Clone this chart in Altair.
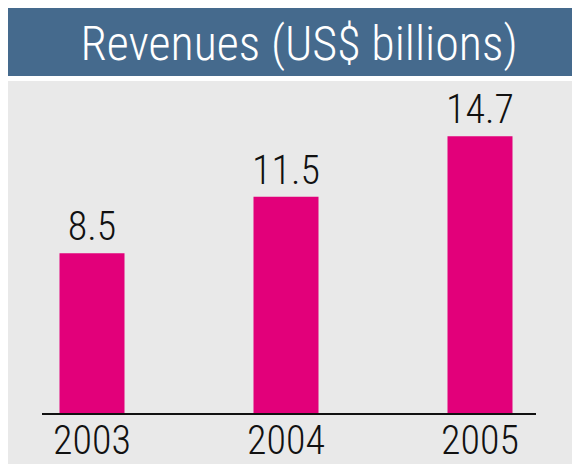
import altair as alt
import pandas as pd

years = ["2003", "2004", "2005"]
revenues = [8.5, 11.5, 14.7]
value_labels = ["8.5", "11.5", "14.7"]
title_text = "Revenues (US$ billions)"

FONT = "Roboto Condensed, Liberation Sans Narrow, Arial Narrow, sans-serif"
BLUE = "#456a8d"
GRAY = "#e9e9e9"
MAGENTA = "#e2007a"

df = pd.DataFrame({"year": years, "revenue": revenues, "label": value_labels})
one = pd.DataFrame({"a": [0]})

W, H = 564, 456

xs = alt.X("year:N", axis=None,
           scale=alt.Scale(domain=years, range=[-13, 569], paddingInner=0, paddingOuter=0))
ys = alt.Y("revenue:Q", axis=None, scale=alt.Scale(domain=[0, 20], range=[406, 28]))

title_bar = alt.Chart(one).mark_rect(color=BLUE).encode(
    x=alt.value(0), x2=alt.value(W), y=alt.value(0), y2=alt.value(68))
panel = alt.Chart(one).mark_rect(color=GRAY).encode(
    x=alt.value(0), x2=alt.value(W), y=alt.value(73), y2=alt.value(H))
title = alt.Chart(one).mark_text(
    font=FONT, fontSize=48, fontWeight=300, color="white", align="center", baseline="alphabetic"
).encode(x=alt.value(291), y=alt.value(52), text=alt.value(title_text))

bars = alt.Chart(df).mark_bar(color=MAGENTA, size=65).encode(
    x=xs, y=ys, y2=alt.datum(0))

labels = alt.Chart(df).mark_text(
    font=FONT, fontSize=40, fontWeight=300, color="#111111", align="center",
    baseline="alphabetic", dy=-13
).encode(x=xs, y=ys, text="label:N")

baseline = alt.Chart(one).mark_rule(color="#111111", strokeWidth=2).encode(
    x=alt.value(34), x2=alt.value(528), y=alt.value(406))

year_labels = alt.Chart(df).mark_text(
    font=FONT, fontSize=40, fontWeight=300, color="#111111", align="center",
    baseline="alphabetic"
).encode(x=xs, y=alt.value(446), text="year:N")

chart = alt.layer(title_bar, panel, title, bars, labels, baseline, year_labels).properties(
    width=W, height=H, padding=0, autosize=alt.AutoSizeParams(type="none"),
    background="white"
).configure_view(stroke=None)

chart.save("out.html", embed_options={"renderer": "svg", "actions": False})
